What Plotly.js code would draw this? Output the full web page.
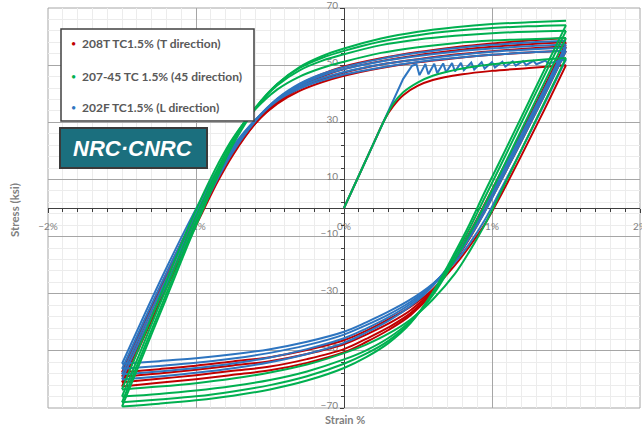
<!DOCTYPE html>
<html><head><meta charset="utf-8">
<script src="https://cdn.plot.ly/plotly-3.0.1.min.js"></script>
<style>html,body{margin:0;padding:0;background:#fff}#chart{width:642px;height:427px}</style>
</head><body><div id="chart"></div>
<script>
// ---- shared strain grids (%) ----
const strainDown = [1.5, 1.35, 1.2, 1.05, 0.95, 0.85, 0.75, 0.6, 0.45, 0.3, 0.15, 0, -0.25, -0.5, -0.75, -1.0, -1.25, -1.5];
const strainUp = [-1.5, -1.35, -1.2, -1.05, -0.95, -0.85, -0.75, -0.6, -0.45, -0.3, -0.15, 0, 0.25, 0.5, 0.75, 1.0, 1.25, 1.5];

// ---- 208T TC1.5% (T direction) : red ----
const redInitStrain = [0, 0.1, 0.2, 0.28, 0.33, 0.4, 0.5, 0.6, 0.8, 1.0, 1.25, 1.5];
const redInit = [0, 11.3, 22.6, 31.5, 35.5, 39.5, 42.8, 44.8, 46.8, 48, 49, 50];
const redDown = [
  [50, 34, 18.5, 3.5, -5.8, -13.3, -20, -28.5, -34.5, -39, -43, -46.3, -49.7, -52.2, -53.7, -55.2, -56.4, -57.5],
  [55, 39, 23.5, 8.5, -1.3, -10.5, -18.5, -28.8, -35.8, -40.5, -44.3, -47.7, -51.1, -53.6, -55.1, -56.6, -57.9, -59],
  [56.5, 40.5, 25, 10, 0, -9.5, -18, -29.3, -36.8, -41.8, -45.8, -49.4, -52.9, -55.5, -57, -58.5, -59.8, -61],
  [58, 42, 26.5, 11.5, 1.3, -8.5, -17.2, -29.5, -37.5, -42.7, -46.9, -50.5, -54.2, -56.8, -58.4, -59.9, -61.2, -62.5]
];
const redUp = [
  [-57.5, -40, -23, -7, 3, 12.5, 20.5, 29.8, 36.5, 41, 44, 46.3, 49, 51, 52.4, 53.6, 54.4, 55],
  [-59, -41.5, -24.5, -8.5, 1.8, 11.6, 19.8, 29.6, 36.9, 41.8, 45, 47.4, 50.2, 52.1, 53.7, 54.9, 55.8, 56.5],
  [-61, -43.5, -26.5, -10.3, 0.3, 10.5, 19.2, 29.6, 37.3, 42.6, 46, 48.6, 51.4, 53.5, 55.1, 56.4, 57.3, 58],
  [-62.5, -45, -28, -11.5, -0.8, 9.6, 18.6, 29.5, 37.6, 43.2, 46.8, 49.5, 52.4, 54.6, 56.3, 57.6, 58.6, 59.5]
];

// ---- 202F TC1.5% (L direction) : blue ----
const blueInitStrain = [0, 0.1, 0.2, 0.3, 0.4, 0.46, 0.49, 0.51, 0.55, 0.57, 0.61, 0.63, 0.67, 0.69, 0.73, 0.75, 0.79, 0.81, 0.86, 0.88, 0.93, 0.95, 1.0, 1.02, 1.07, 1.09, 1.14, 1.16, 1.21, 1.23, 1.28, 1.30, 1.36, 1.38, 1.5];
const blueInit = [0, 11.3, 22.6, 33.9, 45.2, 49.8, 50.3, 46.5, 50.4, 46.8, 50.5, 47.2, 50.6, 47.5, 50.7, 47.8, 50.8, 48.2, 50.9, 48.5, 51, 48.8, 51.1, 49.2, 51.2, 49.5, 51.3, 49.8, 51.4, 50, 51.5, 50.3, 51.6, 50.6, 52];
const blueDown = [
  [52, 36, 20.5, 5.5, -4.3, -12.3, -19, -26.5, -32, -36.3, -40, -43.3, -46.8, -49.4, -51.2, -52.6, -53.6, -54.5],
  [55, 39, 23.5, 8.5, -1.5, -10.3, -18, -26.8, -32.8, -37.3, -41, -44.3, -48, -50.7, -52.7, -54.2, -55.3, -56.3],
  [56.2, 40.2, 24.8, 9.8, 0, -9.3, -17.5, -27, -33.5, -38.3, -42.2, -45.6, -49.4, -52.3, -54.4, -56, -57.2, -58.2],
  [57.2, 41.2, 25.8, 10.8, 0.8, -8.8, -17.3, -27.3, -34.3, -39.5, -43.6, -47.2, -51.1, -54, -56.1, -57.7, -59, -60]
];
const blueUp = [
  [-54.5, -37.5, -21, -5.3, 4.5, 13.7, 21.6, 30.8, 37.6, 41.8, 44.6, 46.7, 49.2, 51.1, 52.5, 53.6, 54.4, 55],
  [-56.3, -39.3, -22.8, -7, 3.2, 12.9, 21.1, 30.7, 37.9, 42.4, 45.4, 47.6, 50.2, 52, 53.5, 54.7, 55.5, 56.2],
  [-58.2, -41.2, -24.7, -8.7, 1.8, 11.8, 20.5, 30.7, 38.2, 43, 46.3, 48.6, 51.3, 53.2, 54.7, 55.8, 56.6, 57.2],
  [-60, -43, -26.5, -10.5, 0.3, 10.6, 19.6, 30.3, 38.3, 43.5, 46.9, 49.3, 52.2, 54.3, 55.9, 57.1, 57.9, 58.5]
];

// ---- 207-45 TC 1.5% (45 direction) : green ----
const greenInitStrain = [0, 0.1, 0.2, 0.28, 0.33, 0.4, 0.5, 0.6, 0.8, 1.0, 1.25, 1.5];
const greenInit = [0, 11.3, 22.6, 31.5, 36.3, 40.5, 44, 46.3, 48.8, 50.3, 51.5, 52.5];
const greenDown = [
  [52.5, 36.5, 20.5, 4.5, -6, -15, -23, -32, -39, -44, -47.8, -50.8, -54.8, -57.6, -59.7, -61.3, -62.5, -63.5],
  [59.5, 43.5, 27.5, 11.5, 1, -9, -18, -30.5, -39.5, -45.5, -49.8, -53, -57.2, -60.2, -62.3, -63.9, -65.1, -66],
  [62, 46, 30, 14, 3.5, -7, -16.5, -30, -40, -46.5, -51, -54.5, -58.9, -62, -64.2, -65.9, -67, -68],
  [64, 48, 32, 16, 5.5, -5.5, -15.5, -29.5, -40.3, -47.3, -52.2, -56, -60.4, -63.5, -65.7, -67.3, -68.5, -69.5]
];
const greenUp = [
  [-63.5, -44.5, -25.5, -6.5, 5, 15.5, 24.5, 34.5, 41.5, 46, 49, 51.2, 54.3, 56.3, 57.7, 58.6, 59.1, 59.5],
  [-66, -47, -28, -9, 2.8, 14, 24, 35, 43, 48.2, 51.5, 53.8, 57, 59, 60.3, 61.2, 61.7, 62],
  [-68, -49, -30, -11, 1, 12.5, 23, 35, 43.5, 49, 52.5, 55, 58.3, 60.5, 62, 63, 63.6, 64],
  [-69.5, -50.5, -31.5, -12.3, -0.2, 11.5, 22.2, 34.6, 43.4, 49.3, 53.1, 55.8, 59.3, 61.7, 63.3, 64.4, 65, 65.5]
];

const seriesNames = ['208T TC1.5% (T direction)', '207-45 TC 1.5% (45 direction)', '202F TC1.5% (L direction)'];
const seriesColors = ['#c00000', '#00b050', '#2e75c0'];

// ---- build traces ----
const traces = [];
function addSeries(color, initX, initY, downs, ups, initShape) {
  traces.push({x: initX, y: initY, type: 'scatter', mode: 'lines',
    line: {color: color, width: 2, shape: initShape, smoothing: 1}, hoverinfo: 'skip'});
  for (let k = 0; k < downs.length; k++) {
    traces.push({x: strainDown, y: downs[k], type: 'scatter', mode: 'lines',
      line: {color: color, width: 2, shape: 'spline', smoothing: 1}, hoverinfo: 'skip'});
    traces.push({x: strainUp, y: ups[k], type: 'scatter', mode: 'lines',
      line: {color: color, width: 2, shape: 'spline', smoothing: 1}, hoverinfo: 'skip'});
  }
}
addSeries(seriesColors[0], redInitStrain, redInit, redDown, redUp, 'spline');
addSeries(seriesColors[2], blueInitStrain, blueInit, blueDown, blueUp, 'linear');
addSeries(seriesColors[1], greenInitStrain, greenInit, greenDown, greenUp, 'spline');

// ---- layout ----
const W = 642, H = 427, mL = 48, mR = 2, mT = 8, mB = 19;
const pw = W - mL - mR, ph = H - mT - mB;
const px = v => (v - mL) / pw;
const py = v => (H - mB - v) / ph;

const annotations = [
  {text: '<b>Stress (ksi)</b>', xref: 'paper', yref: 'paper', x: px(14), y: py(210), textangle: -90,
   xanchor: 'center', yanchor: 'middle',
   showarrow: false, font: {size: 11.5, color: '#7f7f7f', family: 'Lato, sans-serif'}},
  {text: '<b>Strain %</b>', xref: 'paper', yref: 'paper', x: px(345), y: py(427),
   xanchor: 'center', yanchor: 'bottom', borderpad: 0,
   showarrow: false, font: {size: 11, color: '#7f7f7f', family: 'Lato, sans-serif'}},
  {text: '<b><i>NRC·CNRC</i></b>', xref: 'paper', yref: 'paper', x: px(133), y: py(148),
   xanchor: 'center', yanchor: 'middle',
   showarrow: false, font: {size: 22, color: '#ffffff', family: 'Liberation Sans, sans-serif'}}
];
const rowY = [44, 76, 107];
const legendOrder = [0, 1, 2];
legendOrder.forEach((s, i) => {
  annotations.push({text: '•', xref: 'paper', yref: 'paper', x: px(73), y: py(rowY[i]),
    xanchor: 'center', yanchor: 'middle',
    showarrow: false, font: {size: 9, color: seriesColors[s]}});
  annotations.push({text: '<b>' + seriesNames[s] + '</b>', xref: 'paper', yref: 'paper',
    x: px(80), y: py(rowY[i]), xanchor: 'left', yanchor: 'middle', showarrow: false,
    font: {size: 12, color: '#595959', family: 'Lato, sans-serif'}});
});

const shapes = [
  {type: 'rect', xref: 'paper', yref: 'paper', x0: 0, x1: 1, y0: 0, y1: 1,
   line: {color: '#a6a6a6', width: 1}, layer: 'below'},
  {type: 'rect', xref: 'paper', yref: 'paper', x0: px(61), x1: px(254), y0: py(121), y1: py(29),
   fillcolor: '#ffffff', line: {color: '#404040', width: 1.5}, layer: 'above'},
  {type: 'rect', xref: 'paper', yref: 'paper', x0: px(60), x1: px(207), y0: py(168), y1: py(128),
   fillcolor: '#1b6f7e', line: {color: '#3a3a3a', width: 2}, layer: 'above'}
];

const layout = {
  width: W, height: H,
  margin: {l: mL, r: mR, t: mT, b: mB},
  paper_bgcolor: '#ffffff', plot_bgcolor: '#ffffff',
  showlegend: false,
  font: {family: 'Lato, sans-serif', color: '#7f7f7f'},
  xaxis: {range: [-2, 2], tickmode: 'linear', tick0: 0, dtick: 1, ticksuffix: '%',
    anchor: 'free', position: 0.5, showline: true, linecolor: '#3f3f3f', linewidth: 1,
    ticks: 'outside', ticklen: 4, tickcolor: '#3f3f3f', showgrid: true, gridcolor: '#a6a6a6',
    gridwidth: 1, zeroline: false, layer: 'below traces', ticklabelstandoff: 5,
    ticklabeloverflow: 'allow',
    tickfont: {size: 10, color: '#7f7f7f'},
    minor: {dtick: 0.1, tick0: 0, ticks: 'outside', ticklen: 3, tickcolor: '#3f3f3f',
      showgrid: true, gridcolor: '#ececec', gridwidth: 1}},
  yaxis: {range: [-70, 70], tickmode: 'linear', tick0: 10, dtick: 20,
    anchor: 'free', position: 0.5, showline: true, linecolor: '#3f3f3f', linewidth: 1,
    ticks: 'outside', ticklen: 4, tickcolor: '#3f3f3f', showgrid: true, gridcolor: '#a6a6a6',
    gridwidth: 1, zeroline: false, layer: 'below traces', ticklabelshift: -3,
    ticklabeloverflow: 'allow',
    tickfont: {size: 10, color: '#7f7f7f'},
    minor: {dtick: 4, tick0: 10, ticks: 'outside', ticklen: 3, tickcolor: '#3f3f3f',
      showgrid: true, gridcolor: '#ececec', gridwidth: 1}},
  annotations: annotations,
  shapes: shapes
};

Plotly.newPlot('chart', traces, layout, {staticPlot: true, displayModeBar: false});
</script>
</body></html>
